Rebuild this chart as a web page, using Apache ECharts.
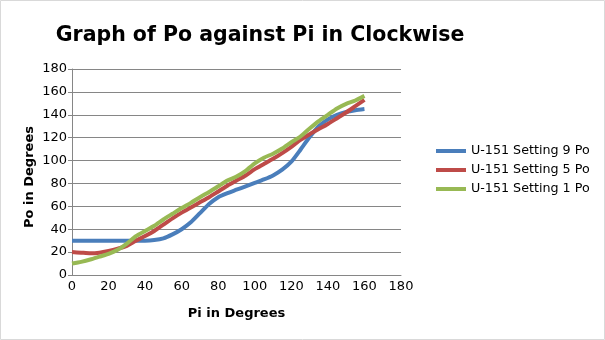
<!DOCTYPE html>
<html>
<head>
<meta charset="utf-8">
<script src="https://cdn.jsdelivr.net/npm/echarts@6/dist/echarts.min.js"></script>
<style>
  html, body { margin: 0; padding: 0; background: #fff; }
  #chart { width: 605px; height: 340px; }
</style>
</head>
<body>
<div id="chart"></div>
<script>
// Input angle Pi (degrees)
const piValues = [0, 5, 10, 15, 20, 25, 30, 35, 40, 45, 50, 55, 60, 65, 70, 75, 80,
  85, 90, 95, 100, 105, 110, 115, 120, 125, 130, 135, 140, 145, 150, 155, 160];

// Output angle Po (degrees) for each setting
const setting9 = [30, 30, 30, 30, 30, 30, 30, 30, 30, 30.5, 32, 35.5, 40, 46, 54, 62, 68,
  71.5, 74.5, 77.5, 80.5, 83.5, 87, 92, 99, 109.5, 120.5, 130, 136, 140, 142.5, 144, 145];
const setting5 = [20, 19.5, 19, 19.5, 21, 23, 25.5, 30, 34, 38.5, 44, 49.5, 54.5, 59, 63.5, 68, 73,
  78, 82.5, 87, 92.5, 97, 101.5, 106.5, 112, 118, 123, 127.5, 132, 137, 142, 147.5, 153];
const setting1 = [10, 11.5, 13.5, 16, 18.5, 22, 27.5, 34, 38.5, 43, 48.5, 53.5, 58.5, 63, 68, 72.5, 77.5,
  82.5, 86, 91, 97.5, 102.5, 106, 110.5, 116, 121, 128, 134.5, 140, 145.5, 149.5, 152.5, 156.5];

const seriesNames = ['U-151 Setting 9 Po', 'U-151 Setting 5 Po', 'U-151 Setting 1 Po'];
const seriesColors = ['#4a7ebb', '#be4b48', '#98b954'];
const axisTicks = [0, 20, 40, 60, 80, 100, 120, 140, 160, 180];

const pairs = vals => piValues.map((p, i) => [p, vals[i]]);

const chart = echarts.init(document.getElementById('chart'));
const font = 'DejaVu Sans';

chart.setOption({
  animation: false,
  textStyle: { fontFamily: font },
  title: {
    text: 'Graph of Po against Pi in Clockwise',
    left: 255,
    textAlign: 'center',
    top: 20,
    textStyle: { fontFamily: font, fontSize: 20.5, fontWeight: 'bold', color: '#000' }
  },
  legend: {
    orient: 'vertical',
    left: 431,
    top: 139,
    icon: 'rect',
    itemWidth: 30,
    itemHeight: 4,
    itemGap: 5,
    data: seriesNames,
    textStyle: { fontFamily: font, fontSize: 12.7, color: '#000', lineHeight: 14 }
  },
  grid: { left: 72, right: 204, top: 69, bottom: 65 },
  xAxis: {
    type: 'value',
    min: axisTicks[0],
    max: axisTicks[axisTicks.length - 1],
    interval: 20,
    name: 'Pi in Degrees',
    nameLocation: 'middle',
    nameGap: 32,
    nameTextStyle: { fontFamily: font, fontSize: 13, fontWeight: 'bold', color: '#000' },
    axisLine: { lineStyle: { color: '#868686', width: 1 } },
    axisTick: { show: false },
    axisLabel: { color: '#000', fontSize: 13, fontFamily: font, margin: 5 },
    splitLine: { show: false }
  },
  yAxis: {
    type: 'value',
    min: axisTicks[0],
    max: axisTicks[axisTicks.length - 1],
    interval: 20,
    name: 'Po in Degrees',
    nameLocation: 'middle',
    nameMoveOverlap: false,
    nameGap: 36,
    nameTextStyle: { fontFamily: font, fontSize: 13, fontWeight: 'bold', color: '#000', padding: [0, 10, 0, 0] },
    axisLine: { show: true, lineStyle: { color: '#868686', width: 1 } },
    axisTick: { show: true, length: 4, lineStyle: { color: '#868686' } },
    axisLabel: { color: '#000', fontSize: 13, fontFamily: font, margin: 5 },
    splitLine: { show: true, lineStyle: { color: '#868686', width: 1 } }
  },
  series: [setting9, setting5, setting1].map((vals, i) => ({
    name: seriesNames[i],
    type: 'line',
    data: pairs(vals),
    showSymbol: false,
    symbol: 'none',
    smooth: 0.2,
    color: seriesColors[i],
    lineStyle: { width: 4, color: seriesColors[i] }
  })),
  graphic: [{
    type: 'rect',
    shape: { x: 0.5, y: 0.5, width: 604, height: 339 },
    style: { fill: 'none', stroke: '#d9d9d9', lineWidth: 1 },
    silent: true
  }]
});
</script>
</body>
</html>
